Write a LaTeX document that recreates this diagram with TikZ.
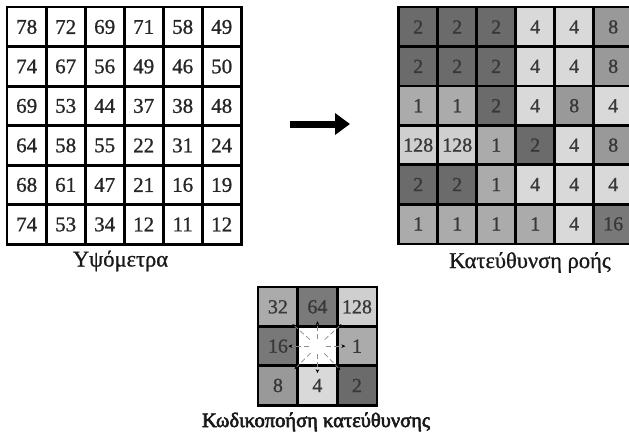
\documentclass[tikz,border=0pt]{standalone}
\usepackage{fontspec}
\setmainfont{Liberation Serif}[RawFeature={embolden=1}]
\newfontfamily\heavyserif{Liberation Serif}[RawFeature={embolden=3}]
\usetikzlibrary{arrows.meta}
\definecolor{g1}{gray}{0.67}
\definecolor{g2}{gray}{0.42}
\definecolor{g4}{gray}{0.85}
\definecolor{g8}{gray}{0.60}
\definecolor{g16}{gray}{0.47}
\definecolor{g32}{gray}{0.67}
\definecolor{g64}{gray}{0.48}
\definecolor{g128}{gray}{0.81}
\definecolor{gw}{gray}{1}
\begin{document}
\begin{tikzpicture}[x=1pt,y=-1pt,
  cellL/.style={minimum width=39pt,minimum height=39.5pt,inner sep=0pt,anchor=north west,
     font=\fontsize{21}{21}\selectfont,text=black!85},
  cellR/.style={minimum width=39pt,minimum height=39.4pt,inner sep=0pt,anchor=north west,
     font=\fontsize{20}{20}\selectfont,text=black!78},
  cellB/.style={minimum width=39.5pt,minimum height=39.3pt,inner sep=0pt,anchor=north west,
     font=\fontsize{20}{20}\selectfont,text=black!78},
  gridline/.style={draw=black,line width=2.4pt},
  lbl/.style={anchor=base,font=\fontsize{22.5}{22.5}\selectfont,text=black!90},
  ray/.style={draw=black!45,line width=0.7pt,dash pattern=on 5pt off 3pt,
     -{Stealth[length=4pt,width=3.5pt,black]}}]
\useasboundingbox (0,0) rectangle (629,437);
% ---------- left grid (elevations)
\foreach \row [count=\r from 0] in {{78,72,69,71,58,49},{74,67,56,49,46,50},{69,53,44,37,38,48},
   {64,58,55,22,31,24},{68,61,47,21,16,19},{74,53,34,12,11,12}}{
  \foreach \v [count=\c from 0] in \row {
    \node[cellL] (L\r\c) at (7+39*\c, 7+39.5*\r) {\v};
    \draw[gridline] (L\r\c.north west) rectangle (L\r\c.south east);
  }
}
% ---------- right grid (flow direction)
\foreach \row [count=\r from 0] in {{2,2,2,4,4,8},{2,2,2,4,4,8},{1,1,2,4,8,4},
   {128,128,1,2,4,8},{2,2,1,4,4,4},{1,1,1,1,4,16}}{
  \foreach \v [count=\c from 0] in \row {
    \node[cellR,fill=g\v] (R\r\c) at (398.5+39*\c, 7+39.4*\r) {\v};
  }
}
\foreach \r in {0,...,5}{\foreach \c in {0,...,5}{
  \draw[gridline] (R\r\c.north west) rectangle (R\r\c.south east);}}
% ---------- bottom grid (direction coding)
\foreach \row [count=\r from 0] in {{32/32,64/64,128/128},{16/16,w/{},1/1},{8/8,4/4,2/2}}{
  \foreach \col/\txt [count=\c from 0] in \row {
    \node[cellB,fill=g\col] (B\r\c) at (258+39.5*\c, 287+39.3*\r) {\txt};
  }
}
\foreach \r in {0,1,2}{\foreach \c in {0,1,2}{
  \draw[gridline] (B\r\c.north west) rectangle (B\r\c.south east);}}
% rays from the centre cell
\foreach \dx/\dy/\n in {0/-25/t,28/0/e,0/27/s,-29/0/w,-25/-22/tl,24/-22/tr,-23/23/bl,23/24/br}{
  \coordinate (s\n) at ([shift={(\dx*0.3,\dy*0.3)}]B11.center);
  \coordinate (e\n) at ([shift={(\dx,\dy)}]B11.center);
  \draw[ray] (s\n) -- (e\n);
}
% ---------- big arrow
\coordinate (aS) at (290,124);
\coordinate (aE) at (350,124);
\draw[line width=7pt,-{Triangle[length=15pt,width=21pt]}] (aS) -- (aE);
% ---------- labels
\node[lbl] (tL) at (120.5,266.5) {Υψόμετρα};
\node[lbl] (tR) at (530,268) {Κατεύθυνση ροής};
\node[lbl,font=\heavyserif\fontsize{20.5}{20.5}\selectfont] (tB) at (316,427) {Κωδικοποήση κατεύθυνσης};
\end{tikzpicture}
\end{document}
